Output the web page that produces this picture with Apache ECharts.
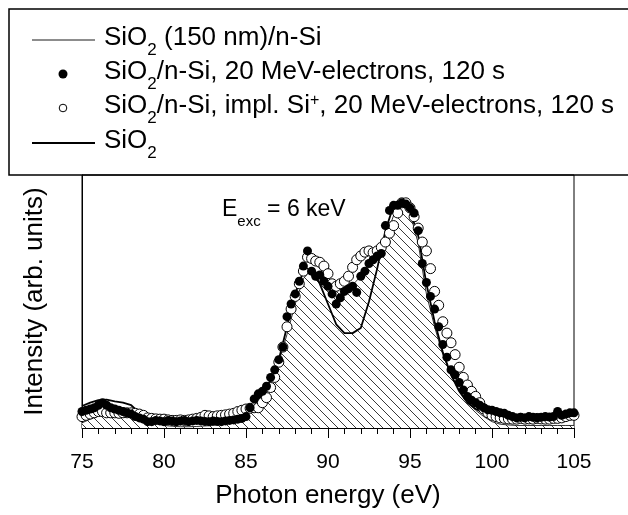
<!DOCTYPE html>
<html>
<head>
<meta charset="utf-8">
<script src="https://cdn.jsdelivr.net/npm/echarts@6/dist/echarts.min.js"></script>
<style>
  html, body { margin: 0; padding: 0; background: #fff; }
  #chart { width: 628px; height: 515px; }
</style>
</head>
<body>
<div id="chart"></div>
<script>
// x grid of the measured points
const dotStart = 75, dotStep = 0.25;   // eV, marker series
const lineStart = 75, lineStep = 0.5;  // eV, line series

// SiO2/n-Si, 20 MeV-electrons, 120 s (filled dots), 75 .. 105 eV
const electronsDots = [
  6.5, 7, 7.5, 8, 9, 10, 9, 8, 7.5, 7, 6.5, 6, 5.5, 4.5, 4, 3.5, 2.5, 2.5, 3, 2.8,          // 75-79.75
  2.5, 3, 2.8, 2.5, 2.8, 3, 2.5, 2.8, 3, 2.8, 2.6, 2.5, 2.8, 2.6, 2.5, 2.8, 3, 3.2, 3.5, 3.8, // 80-84.75
  4.5, 8, 11.5, 13.5, 14.5, 16.5, 20, 23, 27, 32, 44, 49, 53, 58, 64, 70, 62, 60, 60.5, 58,   // 85-89.75
  56, 53, 49, 51.5, 54, 55, 56, 53.6, 60, 62, 65, 66.5, 68, 69, 80, 86, 88, 88, 89, 88.5,     // 90-94.75
  87, 85, 78, 65, 57.5, 52, 47, 40, 33, 28, 23, 21, 18, 15, 12.5, 11, 10, 9, 8, 7.2,          // 95-99.75
  7, 6.5, 6, 5.8, 5, 4.5, 4, 4.2, 4, 4.5, 4.2, 4, 4.2, 4.5, 4.3, 4.5, 6.5, 5, 5.5, 6,         // 100-104.75
  6                                                                                          // 105
];

// SiO2/n-Si, impl. Si+, 20 MeV-electrons, 120 s (open circles), 75 .. 105 eV
const implantedDots = [
  4.5, 5, 5.5, 6, 6.5, 6.5, 6, 6, 6, 5.8, 6, 6, 6, 5.8, 5.5, 5, 4, 3.8, 3.6, 3.5,            // 75-79.75
  3.5, 3.2, 3, 3, 3.2, 3, 3.2, 3.5, 3.8, 4.2, 5, 4.8, 4.5, 4.8, 5, 5.2, 5.5, 5.8, 6.5, 7,     // 80-84.75
  7.5, 7.8, 8, 8, 10, 12, 16, 20, 26, 32, 40, 47, 52, 57, 62, 67.5, 67, 66, 65.5, 64,         // 85-89.75
  61, 57, 56, 57, 58, 60, 63.5, 66.5, 68, 69.5, 70, 69.3, 70, 71.4, 73.5, 77, 80, 85, 89, 89, // 90-94.75
  87, 83.5, 79, 73.5, 70, 63, 54, 48.5, 42, 37.5, 33.7, 29, 24, 20, 17, 14.5, 12.5, 10, 7.5, 6, // 95-99.75
  5, 4.5, 4, 3.8, 3.6, 3.5, 3.5, 3.8, 3.5, 3.6, 3.5, 3.8, 3.6, 3.5, 3.5, 3.8, 3.8, 4, 4.5, 5, // 100-104.75
  5                                                                                          // 105
];

// SiO2 (150 nm)/n-Si (thin line, hatched), 75 .. 105 eV
const filmLine = [
  2, 3.5, 5, 6, 6.5, 6, 5.5, 4.5, 3, 1.8,          // 75-79.5
  1, 0.7, 0.5, 0.5, 0.6, 0.8, 1, 1.5, 2.5, 4,      // 80-84.5
  6, 9, 13, 18.5, 26, 37, 49, 59, 63, 60,          // 85-89.5
  56.5, 54.5, 55, 56.5, 60, 64, 67.5, 75, 84, 88,  // 90-94.5
  85, 73, 53, 40, 29, 21, 15, 10.5, 7, 4.5,        // 95-99.5
  2.5, 1.5, 1.2, 1, 1, 1, 1, 1, 1, 1,              // 100-104.5
  1                                                // 105
];

// SiO2 reference (thick line), 75 .. 105 eV
const oxideLine = [
  8.7, 10, 11, 11.2, 10.5, 10, 9, 6, 3.5, 2.8,     // 75-79.5
  2.5, 2.8, 2.6, 2.5, 2.7, 2.6, 2.8, 2.7, 3, 3.5,  // 80-84.5
  5.5, 9, 13.5, 19, 27, 40, 53, 62, 63, 57,        // 85-89.5
  49, 41, 37.5, 37.5, 39.5, 50, 63, 78, 88, 88.5,  // 90-94.5
  86, 76, 57, 42, 30, 21, 14.5, 10, 7.5, 6,        // 95-99.5
  5, 4.6, 4.5, 4.3, 4.4, 4.3, 4.4, 4.5, 4.7, 5,    // 100-104.5
  5.2                                              // 105
];

const xTicks = { min: 75, max: 105, interval: 5 };

const FONT = 'Arial, "Liberation Sans", sans-serif';

function withEnergy(values, start, step) {
  return values.map((v, i) => [start + i * step, v]);
}

// diagonal hatching for the film spectrum
function hatchPattern() {
  const s = 9;
  const c = document.createElement('canvas');
  c.width = s;
  c.height = s;
  const ctx = c.getContext('2d');
  ctx.fillStyle = '#fff';
  ctx.fillRect(0, 0, s, s);
  ctx.strokeStyle = '#3a3a3a';
  ctx.lineWidth = 1;
  ctx.beginPath();
  ctx.moveTo(-1, -1); ctx.lineTo(s + 1, s + 1);
  ctx.moveTo(-1, s - 1); ctx.lineTo(1, s + 1);
  ctx.moveTo(s - 1, -1); ctx.lineTo(s + 1, 1);
  ctx.stroke();
  return c;
}

// rich styles for sub/superscripts
const richText = {
  m: { fontSize: 26, fontFamily: FONT, color: '#000', lineHeight: 30, verticalAlign: 'top' },
  s: { fontSize: 17, fontFamily: FONT, color: '#000', lineHeight: 50, verticalAlign: 'middle' },
  p: { fontSize: 16, fontFamily: FONT, color: '#000', lineHeight: 16, verticalAlign: 'top' }
};

const legendRows = [
  { y: 40, kind: 'thin', text: '{m|SiO}{s|2}{m| (150 nm)/n-Si}' },
  { y: 74, kind: 'dot', text: '{m|SiO}{s|2}{m|/n-Si, 20 MeV-electrons, 120 s}' },
  { y: 108, kind: 'circle', text: '{m|SiO}{s|2}{m|/n-Si, impl. Si}{p|+}{m|, 20 MeV-electrons, 120 s}' },
  { y: 143, kind: 'thick', text: '{m|SiO}{s|2}' }
];

const legendGraphics = [
  {
    type: 'rect',
    shape: { x: 9, y: 9, width: 640, height: 166 },
    style: { fill: 'none', stroke: '#000', lineWidth: 1.5 },
    z: 10
  }
];
legendRows.forEach(row => {
  if (row.kind === 'thin' || row.kind === 'thick') {
    legendGraphics.push({
      type: 'line',
      shape: { x1: 32, y1: row.y, x2: 95, y2: row.y },
      style: { stroke: '#000', lineWidth: row.kind === 'thin' ? 0.9 : 2 },
      z: 10
    });
  } else {
    legendGraphics.push({
      type: 'circle',
      shape: { cx: 63, cy: row.y, r: row.kind === 'dot' ? 4.5 : 3.8 },
      style: row.kind === 'dot' ? { fill: '#000' } : { fill: '#fff', stroke: '#000', lineWidth: 1 },
      z: 10
    });
  }
  legendGraphics.push({
    type: 'text',
    x: 104,
    y: row.y - 15,
    style: { text: row.text, rich: richText, verticalAlign: 'top', align: 'left' },
    z: 10
  });
});

legendGraphics.push({
  type: 'text',
  x: 222,
  y: 198,
  style: {
    text: '{e|E}{es|exc}{e| = 6 keV}',
    verticalAlign: 'top',
    rich: {
      e: { fontSize: 23, fontFamily: FONT, color: '#000', lineHeight: 28, verticalAlign: 'top' },
      es: { fontSize: 15, fontFamily: FONT, color: '#000', lineHeight: 48, verticalAlign: 'middle' }
    }
  },
  z: 10
});

const chart = echarts.init(document.getElementById('chart'), null, { renderer: 'canvas' });

chart.setOption({
  animation: false,
  backgroundColor: '#fff',
  grid: {
    left: 82, right: 54, top: 175, bottom: 87,
    show: true, borderColor: '#000', borderWidth: 1, backgroundColor: 'transparent'
  },
  xAxis: {
    type: 'value',
    min: xTicks.min, max: xTicks.max, interval: xTicks.interval,
    name: 'Photon energy (eV)',
    nameLocation: 'middle',
    nameGap: 55,
    nameTextStyle: { fontSize: 26, fontFamily: FONT, color: '#000' },
    axisLine: { lineStyle: { color: '#000', width: 1 } },
    axisTick: { inside: false, length: 10, lineStyle: { color: '#000' } },
    minorTick: { show: true, splitNumber: 5, length: 6, lineStyle: { color: '#000' } },
    axisLabel: { fontSize: 21, fontFamily: FONT, color: '#000', margin: 24 },
    splitLine: { show: false }
  },
  yAxis: {
    type: 'value',
    min: 0, max: 100,
    name: 'Intensity (arb. units)',
    nameLocation: 'middle',
    nameGap: 34,
    nameTextStyle: { fontSize: 26, fontFamily: FONT, color: '#000' },
    axisLine: { show: true, lineStyle: { color: '#000', width: 1 } },
    axisTick: { show: false },
    axisLabel: { show: false },
    splitLine: { show: false }
  },
  graphic: legendGraphics,
  series: [
    {
      name: 'SiO2 (150 nm)/n-Si',
      type: 'line',
      data: withEnergy(filmLine, lineStart, lineStep),
      symbol: 'none',
      lineStyle: { color: '#000', width: 0.8 },
      areaStyle: { color: { image: hatchPattern(), repeat: 'repeat' }, opacity: 1 },
      z: 1
    },
    {
      name: 'SiO2',
      type: 'line',
      data: withEnergy(oxideLine, lineStart, lineStep),
      symbol: 'none',
      lineStyle: { color: '#000', width: 1.8 },
      z: 2
    },
    {
      name: 'SiO2/n-Si, impl. Si+, 20 MeV-electrons, 120 s',
      type: 'scatter',
      data: withEnergy(implantedDots, dotStart, dotStep),
      symbol: 'circle',
      symbolSize: 10,
      itemStyle: { color: '#fff', borderColor: '#000', borderWidth: 1, opacity: 1 },
      z: 3
    },
    {
      name: 'SiO2/n-Si, 20 MeV-electrons, 120 s',
      type: 'scatter',
      data: withEnergy(electronsDots, dotStart, dotStep),
      symbol: 'circle',
      symbolSize: 9,
      itemStyle: { color: '#000', opacity: 1 },
      z: 4
    }
  ]
});
</script>
</body>
</html>
